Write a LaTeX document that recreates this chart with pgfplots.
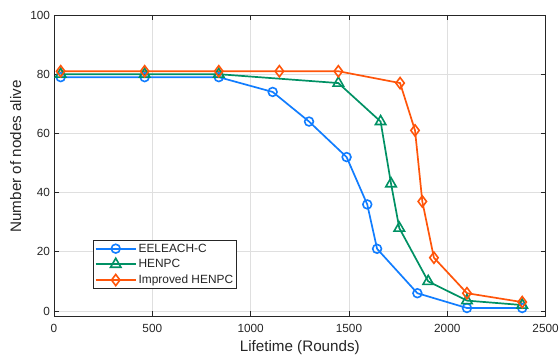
\documentclass[border=0pt]{standalone}
\usepackage{pgfplots}
\pgfplotsset{compat=1.18}
\usepackage{fontspec}
\setmainfont{Liberation Sans}
\definecolor{cblue}{RGB}{17,125,255}
\definecolor{cgreen}{RGB}{0,145,100}
\definecolor{corange}{RGB}{255,85,10}
\definecolor{txt}{RGB}{38,38,38}
\begin{document}
\begin{tikzpicture}
\begin{axis}[
  at={(0pt,0pt)}, anchor=south west,
  scale only axis, width=491.6pt, height=301pt,
  xmin=0, xmax=2500, ymin=-1.7, ymax=100,
  xtick={0,500,1000,1500,2000,2500},
  ytick={0,20,40,60,80,100},
  /pgf/number format/assume math mode=true,
  /pgf/number format/1000 sep={},
  grid=major,
  major grid style={color=gray!25, line width=0.6pt},
  tick align=inside,
  xtick pos=both, ytick pos=both,
  xticklabel pos=bottom, yticklabel pos=left,
  major tick length=5pt,
  axis line style={color=txt, line width=0.7pt},
  every tick/.style={color=txt, line width=0.7pt},
  ticklabel style={font=\fontsize{11.8}{14}\selectfont, text=txt},
  xticklabel style={yshift=-5pt},
  yticklabel style={xshift=-0.5pt},
  xlabel={Lifetime (Rounds)},
  ylabel={Number of nodes alive},
  label style={font=\fontsize{15.2}{18}\selectfont, text=txt},
  xlabel style={at={(axis description cs:0.5,-0.1163)}, anchor=base},
  ylabel style={at={(axis description cs:-0.0596,0.53)}, anchor=south},
  legend style={at={(axis description cs:0.0793,0.0897)}, anchor=south west,
    font=\fontsize{11.9}{14}\selectfont, text=txt, draw=txt, line width=0.8pt,
    inner sep=1.5pt, row sep=1.8pt},
  legend cell align=left,
  legend image code/.code={\draw[line width=1.7pt, mark repeat=2,mark phase=2] plot coordinates {(0pt,0pt)(20pt,0pt)(40pt,0pt)};},
]
\addplot[color=cblue, line width=1.7pt, mark=o, mark size=4.4pt, mark options={line width=1.6pt, fill=white}] coordinates {
(34,79) (461,79) (838,79) (1112,74) (1297,64) (1488,52) (1593,36) (1643,21) (1848,6) (2100,1) (2381,1)};
\addlegendentry{EELEACH-C}
\addplot[color=cgreen, line width=1.7pt, mark=triangle, mark size=6pt, mark options={line width=1.6pt, fill=white}] coordinates {
(34,80) (461,80) (838,80) (1446,77) (1661,64) (1714,43) (1756,28) (1903,10) (2100,3.5) (2381,2)};
\addlegendentry{HENPC}
\addplot[color=corange, line width=1.7pt, mark=diamond, mark size=5.6pt, mark options={line width=1.6pt, fill=white}] coordinates {
(34,81) (461,81) (838,81) (1146,81) (1446,81) (1760,77) (1836,61) (1873,37) (1932,18) (2100,6) (2381,3)};
\addlegendentry{Improved HENPC}
\end{axis}
\pgfresetboundingbox
\path[use as bounding box] (-54pt,-40pt) rectangle (505pt,316pt);
\end{tikzpicture}
\end{document}
